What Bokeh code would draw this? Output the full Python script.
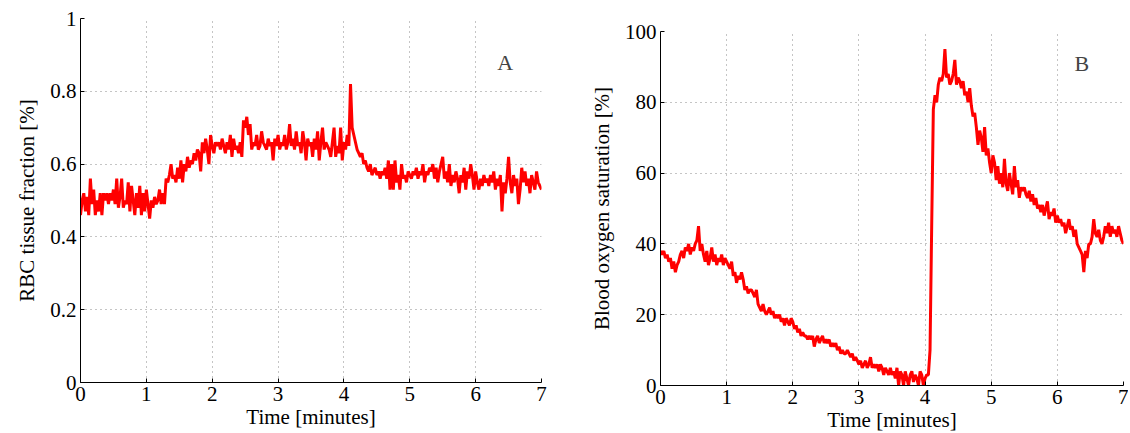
import numpy as np
from bokeh.plotting import figure
from bokeh.layouts import row, column
from bokeh.models import ColumnDataSource, FixedTicker, Label
from bokeh.embed import file_html
from bokeh.resources import INLINE

# Time axis (minutes), sampled every 0.025 min
time_min = [round(i * 0.025, 3) for i in range(281)]

# Panel A: RBC tissue fraction
rbc_fraction = [
    0.46, 0.50, 0.52, 0.47, 0.51, 0.46, 0.56, 0.49, 0.53, 0.46,
    0.50, 0.47, 0.52, 0.46, 0.52, 0.50, 0.52, 0.49, 0.52, 0.50,
    0.53, 0.49, 0.56, 0.48, 0.51, 0.56, 0.48, 0.50, 0.49, 0.55,
    0.47, 0.54, 0.50, 0.46, 0.52, 0.48, 0.54, 0.46, 0.52, 0.47,
    0.53, 0.49, 0.45, 0.50, 0.48, 0.51, 0.49, 0.50, 0.53, 0.49,
    0.52, 0.49, 0.56, 0.55, 0.57, 0.60, 0.56, 0.57, 0.55, 0.59,
    0.56, 0.61, 0.55, 0.60, 0.58, 0.62, 0.59, 0.61, 0.60, 0.63,
    0.61, 0.64, 0.63, 0.58, 0.66, 0.63, 0.67, 0.64, 0.60, 0.68,
    0.65, 0.63, 0.66, 0.65, 0.66, 0.64, 0.67, 0.65, 0.63, 0.66,
    0.64, 0.68, 0.62, 0.67, 0.64, 0.65, 0.63, 0.66, 0.62, 0.72,
    0.70, 0.73, 0.68, 0.71, 0.64, 0.66, 0.65, 0.68, 0.64, 0.65,
    0.69, 0.66, 0.65, 0.64, 0.67, 0.65, 0.66, 0.61, 0.67, 0.65,
    0.68, 0.64, 0.66, 0.65, 0.68, 0.64, 0.66, 0.71, 0.65, 0.67,
    0.64, 0.69, 0.65, 0.66, 0.63, 0.69, 0.66, 0.61, 0.67, 0.65,
    0.66, 0.62, 0.67, 0.64, 0.69, 0.61, 0.66, 0.70, 0.64, 0.66,
    0.65, 0.64, 0.62, 0.66, 0.70, 0.62, 0.65, 0.63, 0.70, 0.61,
    0.66, 0.64, 0.68, 0.65, 0.82, 0.70, 0.68, 0.66, 0.64, 0.63,
    0.62, 0.63, 0.60, 0.61, 0.59, 0.58, 0.60, 0.57, 0.58, 0.59,
    0.57, 0.58, 0.56, 0.58, 0.57, 0.59, 0.56, 0.61, 0.53, 0.60,
    0.53, 0.61, 0.55, 0.57, 0.53, 0.60, 0.56, 0.57, 0.55, 0.58,
    0.57, 0.56, 0.58, 0.57, 0.59, 0.56, 0.58, 0.57, 0.60, 0.55,
    0.58, 0.57, 0.59, 0.58, 0.60, 0.56, 0.59, 0.55, 0.58, 0.60,
    0.62, 0.56, 0.58, 0.55, 0.60, 0.54, 0.57, 0.55, 0.58, 0.56,
    0.52, 0.57, 0.55, 0.59, 0.53, 0.58, 0.56, 0.60, 0.57, 0.53,
    0.58, 0.55, 0.53, 0.56, 0.54, 0.57, 0.55, 0.56, 0.54, 0.57,
    0.55, 0.58, 0.53, 0.56, 0.54, 0.57, 0.47, 0.55, 0.52, 0.56,
    0.62, 0.55, 0.52, 0.57, 0.54, 0.56, 0.49, 0.53, 0.59, 0.55,
    0.58, 0.54, 0.56, 0.52, 0.57, 0.55, 0.53, 0.58, 0.55, 0.54,
    0.53,
]

# Panel B: blood oxygen saturation [%]
oxygen_saturation = [
    38, 37, 38, 36, 37, 35, 36, 33, 35, 32,
    34, 35, 37, 38, 36, 39, 38, 40, 37, 39,
    38, 40, 41, 45, 38, 40, 37, 35, 38, 34,
    36, 39, 35, 37, 34, 36, 35, 37, 34, 36,
    35, 34, 33, 35, 31, 32, 29, 31, 30, 32,
    30, 27, 28, 26, 27, 27, 26, 25, 27, 23,
    22, 21, 23, 21, 20, 21, 22, 20, 21, 19,
    20, 19, 20, 18, 19, 17, 19, 18, 17, 19,
    18, 16, 17, 15, 16, 14, 15, 14, 14, 13,
    14, 13, 14, 11, 13, 14, 12, 13, 14, 12,
    13, 12, 13, 11, 12, 11, 12, 10, 11, 9,
    10, 9, 9, 10, 9, 8, 9, 7, 8, 7,
    6, 7, 5, 6, 7, 5, 6, 8, 5, 6,
    5, 6, 4, 6, 5, 3, 5, 4, 3, 5,
    3, 4, 2, 5, 0, 4, 3, 0, 4, 2,
    0, 3, 4, 1, 3, 2, 0, 4, 3, 0,
    2, 3, 3, 10, 45, 78, 82, 80, 85, 87,
    86, 88, 95, 87, 88, 85, 86, 88, 92, 85,
    87, 86, 84, 86, 82, 83, 80, 84, 79, 76,
    77, 73, 68, 72, 70, 66, 73, 65, 67, 63,
    60, 65, 63, 58, 62, 57, 60, 56, 64, 57,
    55, 60, 57, 54, 62, 56, 58, 53, 56, 55,
    56, 54, 53, 55, 52, 54, 51, 53, 50, 51,
    49, 51, 48, 50, 52, 47, 49, 48, 50, 46,
    48, 46, 47, 45, 46, 43, 45, 47, 44, 45,
    42, 44, 40, 39, 38, 37, 32, 38, 36, 40,
    40, 42, 47, 43, 42, 44, 41, 40, 42, 45,
    43, 46, 42, 45, 43, 44, 42, 45, 43, 41,
    40,
]

x_ticks = [0, 1, 2, 3, 4, 5, 6, 7]
a_ticks = [0, 0.2, 0.4, 0.6, 0.8, 1]
a_tick_labels = {0: "0", 0.2: "0.2", 0.4: "0.4", 0.6: "0.6", 0.8: "0.8", 1: "1"}
b_ticks = [0, 20, 40, 60, 80, 100]

FONT = "Liberation Serif"
FS = "21px"


def style(p, yticks):
    p.xaxis.ticker = FixedTicker(ticks=x_ticks)
    p.yaxis.ticker = FixedTicker(ticks=yticks)
    for ax in (p.xaxis[0], p.yaxis[0]):
        ax.major_label_text_font = FONT
        ax.major_label_text_font_size = FS
        ax.major_label_text_color = "black"
        ax.axis_label_text_font = FONT
        ax.axis_label_text_font_size = FS
        ax.axis_label_text_font_style = "normal"
        ax.axis_label_text_color = "black"
        ax.axis_line_color = "black"
        ax.major_tick_in = 4
        ax.major_tick_out = 0
        ax.minor_tick_line_color = None
        ax.major_tick_line_color = "black"
    p.xaxis.axis_label_standoff = 1
    p.xaxis.major_label_standoff = 4
    p.yaxis.major_label_standoff = 4
    p.yaxis.axis_label_standoff = 8
    for g in (p.xgrid[0], p.ygrid[0]):
        g.grid_line_color = "#8a8a8a"
        g.grid_line_dash = "1 4"
        g.grid_line_width = 1
    p.outline_line_color = None
    p.background_fill_color = "white"
    p.border_fill_color = "white"


src_a = ColumnDataSource(dict(t=time_min, v=rbc_fraction))
pa = figure(frame_width=461, frame_height=364, x_range=(0, 7), y_range=(0, 1),
            output_backend="svg", toolbar_location=None,
            min_border_left=80, min_border_right=20, min_border_top=18, min_border_bottom=51,
            x_axis_label="Time [minutes]", y_axis_label="RBC tissue fraction [%]")
style(pa, a_ticks)
pa.yaxis.major_label_overrides = a_tick_labels
pa.line("t", "v", source=src_a, line_color="#ff0000", line_width=3)
pa.add_layout(Label(x=6.45, y=0.88, text="A", text_font=FONT, text_font_size="22px",
                    text_align="center", text_baseline="middle"))

src_b = ColumnDataSource(dict(t=time_min, v=oxygen_saturation))
pb = figure(frame_width=463, frame_height=354, x_range=(0, 7), y_range=(0, 100),
            output_backend="svg", toolbar_location=None,
            min_border_left=99, min_border_right=5, min_border_top=31, min_border_bottom=48,
            x_axis_label="Time [minutes]", y_axis_label="Blood oxygen saturation [%]")
style(pb, b_ticks)
pb.line("t", "v", source=src_b, line_color="#ff0000", line_width=3)
pb.add_layout(Label(x=6.37, y=91, text="B", text_font=FONT, text_font_size="22px",
                    text_align="center", text_baseline="middle"))

layout = row(column(pa), column(pb), spacing=0)
open("out.html", "w").write(file_html(layout, INLINE))
